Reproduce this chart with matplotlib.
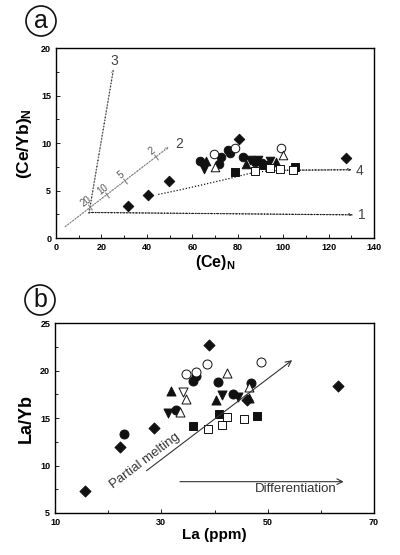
import numpy as np
import matplotlib
matplotlib.use("Agg")
import matplotlib.pyplot as plt
from matplotlib.patches import Circle

plt.rcParams["font.family"] = ["Liberation Sans", "DejaVu Sans"]
plt.rcParams["mathtext.fontset"] = "custom"
plt.rcParams["mathtext.rm"] = "Liberation Sans"
plt.rcParams["mathtext.bf"] = "Liberation Sans:bold"

# ---- panel a data: (Ce)N vs (Ce/Yb)N ----
aDiamondX = [31.6, 40.4, 49.6, 80.4, 127.8]
aDiamondY = [3.4, 4.55, 6.05, 10.4, 8.4]
aCircleX = [63.2, 71.6, 72.6, 76.5, 75.7, 82.2, 87.4, 90.7]
aCircleY = [8.1, 7.8, 8.55, 9.0, 9.25, 8.55, 8.0, 7.95]
aOpenCircleX = [69.4, 79.0, 99.1]
aOpenCircleY = [8.85, 9.5, 9.5]
aTriX = [66.2, 83.8, 97.0]
aTriY = [8.1, 7.85, 8.05]
aOpenTriX = [70.1, 100.0]
aOpenTriY = [7.5, 8.8]
aTriDownX = [65.0, 85.6, 88.8, 94.4]
aTriDownY = [7.3, 8.25, 8.2, 8.1]
aSquareX = [78.7, 91.5, 105.1]
aSquareY = [6.95, 7.65, 7.45]
aOpenSquareX = [87.8, 94.1, 98.8, 104.3]
aOpenSquareY = [7.05, 7.4, 7.25, 7.15]

# trend lines in panel a
line1X, line1Y = [14.5, 130.5], [2.7, 2.45]
line2X, line2Y = [4.0, 49.6], [1.2, 9.6]
line3X, line3Y = [14.5, 25.3], [2.6, 17.8]
line4X = [45.0, 55.0, 65.0, 75.0, 85.0, 92.0, 100.0, 130.0]
line4Y = [4.6, 5.1, 5.65, 6.2, 6.8, 7.05, 7.15, 7.2]
line2TickX = [15.0, 22.3, 30.4, 44.0]
line2TickLabels = ["20", "10", "5", "2"]

# ---- panel b data: La vs La/Yb ----
bDiamondX = [15.6, 22.2, 28.6, 39.0, 46.2, 63.2]
bDiamondY = [7.3, 12.0, 14.0, 22.7, 16.9, 18.4]
bCircleX = [23.0, 32.7, 36.0, 36.5, 40.7, 43.4, 46.9]
bCircleY = [13.3, 15.8, 18.9, 19.4, 18.8, 17.5, 18.7]
bOpenCircleX = [34.6, 36.6, 38.5, 48.7]
bOpenCircleY = [19.6, 19.9, 20.7, 20.9]
bTriX = [31.9, 40.3, 46.4]
bTriY = [17.9, 16.9, 17.1]
bOpenTriX = [33.5, 34.6, 42.3, 46.4]
bOpenTriY = [15.6, 17.0, 19.7, 18.3]
bTriDownX = [31.3, 41.5, 44.5]
bTriDownY = [15.5, 17.4, 17.2]
bOpenTriDownX = [34.0]
bOpenTriDownY = [17.8]
bSquareX = [35.9, 40.8, 47.9]
bSquareY = [14.2, 15.4, 15.2]
bOpenSquareX = [38.8, 41.5, 42.3, 45.6]
bOpenSquareY = [13.9, 14.3, 15.1, 14.9]

black = "#111111"
grey = "#808080"

fig = plt.figure(figsize=(4.0, 5.55), dpi=100)
axA = fig.add_axes([0.14, 0.571, 0.795, 0.342])
axB = fig.add_axes([0.1375, 0.0757, 0.7975, 0.342])

markerStyles = [
    ("D", black, black, 0.75),
    ("o", black, black, 1.0),
    ("o", "white", black, 1.0),
    ("^", black, black, 1.0),
    ("^", "white", black, 1.0),
    ("v", black, black, 1.0),
    ("s", black, black, 0.85),
    ("s", "white", black, 0.85),
]


def style(ax):
    for sp in ax.spines.values():
        sp.set_linewidth(1.0)
    ax.tick_params(which="both", direction="in", labelsize=6.5, width=0.6)
    ax.tick_params(which="major", length=3)
    ax.tick_params(which="minor", length=2)
    for lab in ax.get_xticklabels() + ax.get_yticklabels():
        lab.set_fontweight("bold")


# panel a lines
axA.plot(line1X, line1Y, ls=(0, (1, 1.5)), color=black, lw=0.9)
axA.plot(line2X, line2Y, ls=(0, (1, 1.5)), color=grey, lw=0.9)
axA.plot(line3X, line3Y, ls=(0, (1, 1.5)), color=black, lw=0.9)
axA.plot(line4X, line4Y, ls=(0, (1, 1.5)), color=black, lw=0.9)
for xs, ys, col in [(line1X, line1Y, black), (line2X, line2Y, grey),
                    (line3X, line3Y, grey), (line4X, line4Y, black)]:
    axA.annotate("", xy=(xs[-1], ys[-1]), xytext=(xs[-2], ys[-2]),
                 arrowprops=dict(arrowstyle="->", color=col, lw=0.6,
                                 mutation_scale=5, shrinkA=0, shrinkB=0,
                                 linestyle=(0, (1, 1.5))))
slope2 = (line2Y[1] - line2Y[0]) / (line2X[1] - line2X[0])
tickY = [line2Y[0] + slope2 * (x - line2X[0]) for x in line2TickX]
axA.plot(line2TickX, tickY, ls="none", marker=(2, 0, 37), ms=5,
         mec=grey, mew=0.8)
for x, y, t in zip(line2TickX, tickY, line2TickLabels):
    axA.text(x - 1.8, y + 0.6, t, fontsize=7, color="#555555", rotation=37,
             ha="center", va="center")
axA.text(133, 2.4, "1", fontsize=10, color="#444444", va="center")
axA.text(52.5, 9.9, "2", fontsize=10, color="#444444", va="center")
axA.text(25.7, 18.7, "3", fontsize=10, color="#444444", va="center", ha="center")
axA.text(132, 7.1, "4", fontsize=10, color="#444444", va="center")

aSets = [(aDiamondX, aDiamondY), (aCircleX, aCircleY), (aOpenCircleX, aOpenCircleY),
         (aTriX, aTriY), (aOpenTriX, aOpenTriY), (aTriDownX, aTriDownY),
         (aSquareX, aSquareY), (aOpenSquareX, aOpenSquareY)]
for (xs, ys), (m, fc, ec, k) in zip(aSets, markerStyles):
    axA.scatter(xs, ys, marker=m, s=38 * k, facecolor=fc, edgecolor=ec,
                linewidth=0.7, zorder=3)

axA.set_xlim(0, 140)
axA.set_ylim(0, 20)
axA.set_xticks(np.arange(0, 141, 20))
axA.set_xticks(np.arange(10, 140, 20), minor=True)
axA.set_yticks(np.arange(0, 21, 5))
axA.set_yticks(np.arange(2.5, 20, 5), minor=True)
style(axA)
axA.set_xlabel(r"$\mathbf{(Ce)_N}$", fontsize=11.5, labelpad=1)
axA.set_ylabel(r"$\mathbf{(Ce/Yb)_N}$", fontsize=12.5, labelpad=5)

# panel b
bSets = [(bDiamondX, bDiamondY), (bCircleX, bCircleY), (bOpenCircleX, bOpenCircleY),
         (bTriX, bTriY), (bOpenTriX, bOpenTriY), (bTriDownX, bTriDownY),
         (bSquareX, bSquareY), (bOpenSquareX, bOpenSquareY)]
for (xs, ys), (m, fc, ec, k) in zip(bSets, markerStyles):
    axB.scatter(xs, ys, marker=m, s=42 * k, facecolor=fc, edgecolor=ec,
                linewidth=0.7, zorder=3)
axB.scatter(bOpenTriDownX, bOpenTriDownY, marker="v", s=42, facecolor="white",
            edgecolor=black, linewidth=0.7, zorder=3)

axB.annotate("", xy=(54.6, 21.1), xytext=(27.2, 9.45),
             arrowprops=dict(arrowstyle="->", color="#333333", lw=0.8,
                             mutation_scale=10, shrinkA=0, shrinkB=0))
axB.annotate("", xy=(64.3, 8.3), xytext=(33.5, 8.3),
             arrowprops=dict(arrowstyle="->", color="#333333", lw=0.8,
                             mutation_scale=10, shrinkA=0, shrinkB=0))
axB.text(21.2, 7.3, "Partial melting", fontsize=9.5, color="#333333",
         rotation=37, rotation_mode="anchor", ha="left", va="bottom")
axB.text(63.0, 7.5, "Differentiation", fontsize=9.5, color="#333333",
         ha="right", va="center")

axB.set_xlim(10, 70)
axB.set_ylim(5, 25)
axB.set_xticks([10, 30, 50, 70])
axB.set_xticks([20, 40, 60], minor=True)
axB.set_yticks(np.arange(5, 26, 5))
axB.set_yticks(np.arange(7.5, 25, 5), minor=True)
style(axB)
axB.set_xlabel("La (ppm)", fontsize=11, fontweight="bold", labelpad=1)
axB.set_ylabel("La/Yb", fontsize=13, fontweight="bold", labelpad=4)

# circled panel letters
for cx, cy, letter in [(41, 21, "a"), (40, 300, "b")]:
    fx, fy = cx / 400, 1 - cy / 555
    fig.patches.append(Circle((cx, 555 - cy), 15, transform=None,
                              fill=False, lw=1.2, ec=black))
    fig.text(fx, fy, letter, fontsize=18, ha="center", va="center", color=black)

fig.savefig("out.png", dpi=100)
